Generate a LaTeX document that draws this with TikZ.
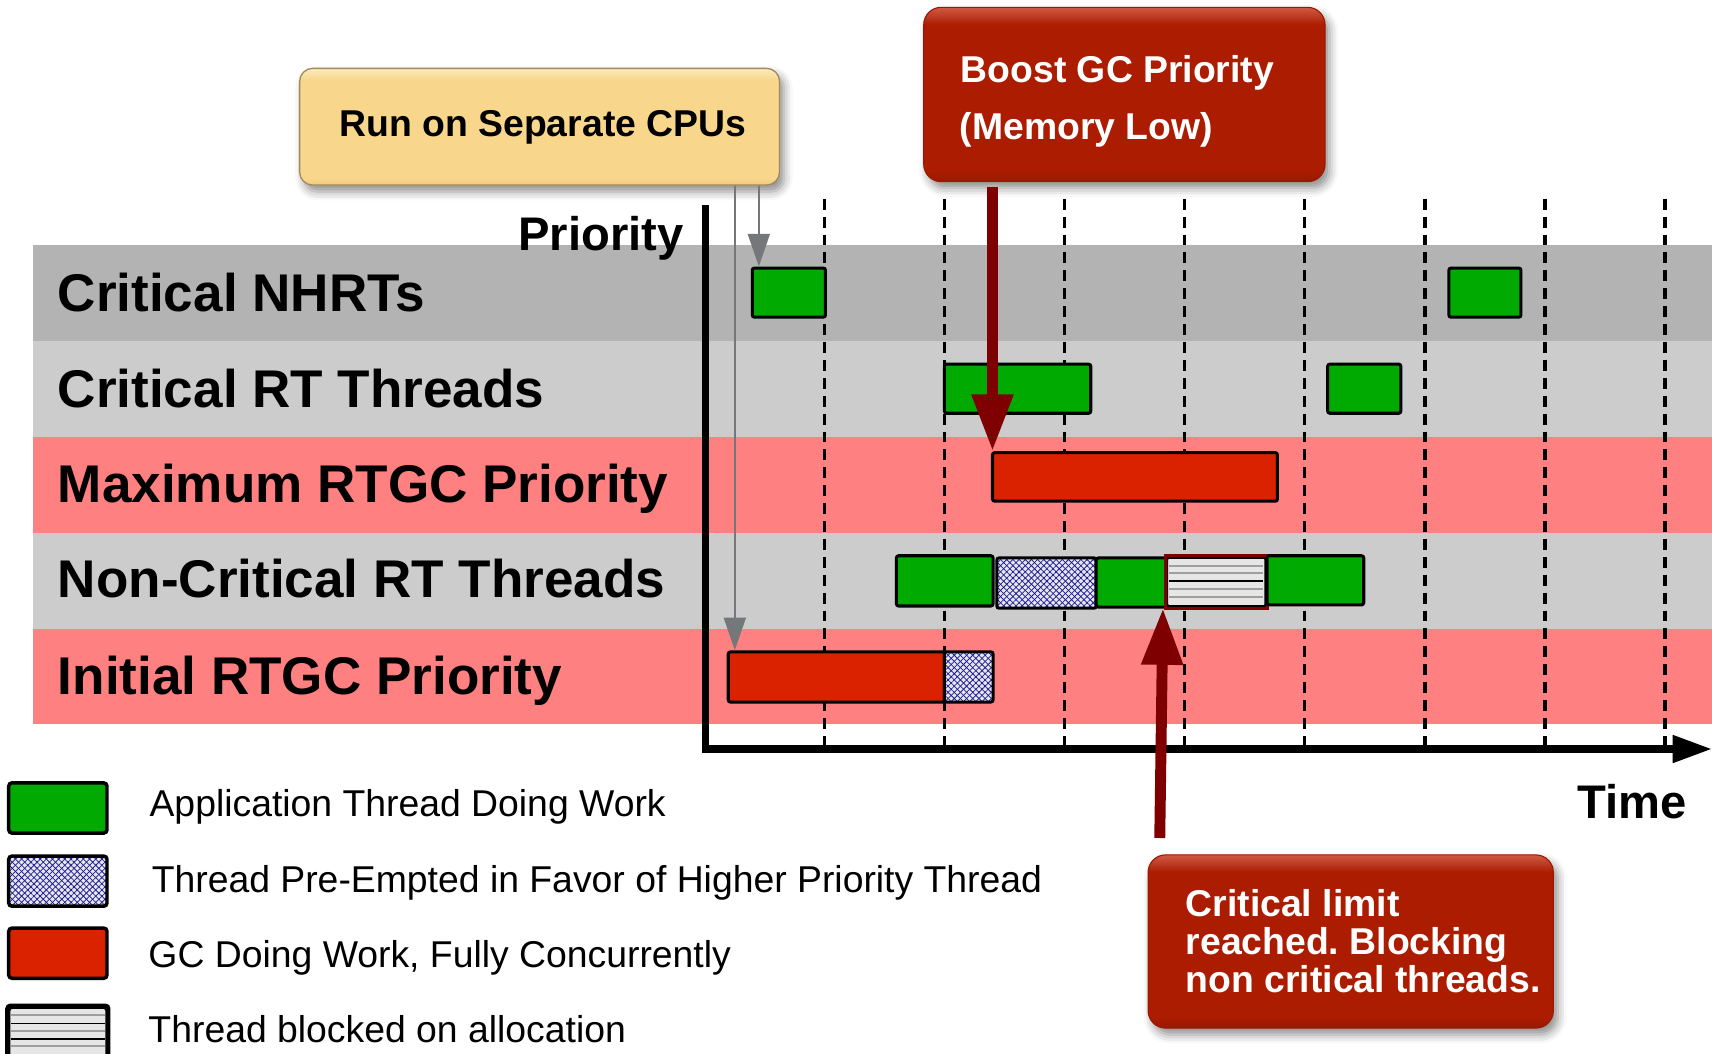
\documentclass[tikz,border=0pt]{standalone}
\usepackage{fontspec}
\setmainfont{Liberation Sans}
\usetikzlibrary{arrows.meta,fit,patterns.meta,shadows.blur,calc}
\frenchspacing

\definecolor{banddark}{HTML}{B3B3B3}
\definecolor{bandlight}{HTML}{CCCCCC}
\definecolor{bandpink}{HTML}{FF8080}
\definecolor{workgreen}{HTML}{00AA00}
\definecolor{gcred}{HTML}{DB2200}
\definecolor{hatchbg}{HTML}{E6E6E6}
\definecolor{hatchblue}{HTML}{1A1A99}
\definecolor{blkred}{HTML}{800000}
\definecolor{arrred}{HTML}{7F0000}
\definecolor{arrgray}{HTML}{76777B}
\definecolor{boxred}{HTML}{AB1C00}
\definecolor{boxredtop}{HTML}{D05A44}
\definecolor{boxredbot}{HTML}{9A1800}
\definecolor{boxyel}{HTML}{F8D68B}
\definecolor{boxyeltop}{HTML}{FCEBBE}
\definecolor{boxyelbot}{HTML}{EFCB80}
\definecolor{boxyeledge}{HTML}{A08A5A}

\pgfdeclareverticalshading{redboxshade}{100bp}{color(0bp)=(boxredbot); color(25bp)=(boxredbot); color(28bp)=(boxred); color(70bp)=(boxred); color(75bp)=(boxredtop); color(100bp)=(boxredtop)}
\pgfdeclareverticalshading{yelboxshade}{100bp}{color(0bp)=(boxyelbot); color(25bp)=(boxyelbot); color(28bp)=(boxyel); color(70bp)=(boxyel); color(75bp)=(boxyeltop); color(100bp)=(boxyeltop)}

\newcommand{\bandfnt}{\fontsize{24.3}{29}\selectfont\bfseries}
\newcommand{\axisfnt}{\fontsize{21.6}{26}\selectfont\bfseries}
\newcommand{\legfnt}{\fontsize{17.1}{20}\selectfont}
\newcommand{\boxfnt}{\fontsize{17.1}{20}\selectfont\bfseries}

\begin{document}
\begin{tikzpicture}[x=0.5pt,y=-0.5pt,
  txt/.style={inner sep=0pt, outer sep=0pt},
  blockbase/.style={draw=black, line width=1.4pt, rounded corners=1pt, inner sep=0pt},
  work/.style={blockbase, fill=workgreen},
  gc/.style={blockbase, fill=gcred},
  hatch/.style={blockbase,
    preaction={fill=hatchbg},
    preaction={pattern={Lines[angle=45,distance=2pt,line width=0.35pt]}, pattern color=hatchblue},
    preaction={pattern={Lines[angle=-45,distance=2pt,line width=0.35pt]}, pattern color=hatchblue}},
  blocked/.style={blockbase, fill=hatchbg},
  legbox/.style={line width=1.6pt, rounded corners=1.5pt},
  hline/.style={line width=0.8pt, draw=gray!75},
  dashline/.style={line width=1.5pt, dash pattern=on 5pt off 3.2pt},
  axisline/.style={line width=3.3pt, -{Triangle[length=18pt,width=12pt]}},
  grayarr/.style={draw=arrgray, line width=1.2pt, -{Triangle[length=15pt,width=10pt]}, fill=arrgray},
  redarr/.style={draw=arrred, line width=5pt, -{Triangle[length=26pt,width=18pt]}, fill=arrred},
  redbox/.style={inner sep=0pt, rounded corners=8pt, draw=boxredbot, line width=0.5pt,
    shading=redboxshade,
    blur shadow={shadow xshift=2pt, shadow yshift=-3pt, shadow blur radius=4pt, shadow opacity=45}},
  yelbox/.style={inner sep=0pt, rounded corners=6pt, draw=boxyeledge, line width=0.6pt,
    shading=yelboxshade,
    blur shadow={shadow xshift=2pt, shadow yshift=-3pt, shadow blur radius=4pt, shadow opacity=45}}
]
\useasboundingbox (0,0) rectangle (1568,965);

% priority bands
\fill[banddark]  (30,224) rectangle (1568,312);
\fill[bandlight] (30,312) rectangle (1568,400);
\fill[bandpink]  (30,400) rectangle (1568,488);
\fill[bandlight] (30,488) rectangle (1568,576);
\fill[bandpink]  (30,576) rectangle (1568,663);

% band labels
\node[txt, anchor=base west, font=\bandfnt] (lbl1) at (53,285) {Critical NHRTs};
\node[txt, anchor=base west, font=\bandfnt] (lbl2) at (53,373) {Critical RT Threads};
\node[txt, anchor=base west, font=\bandfnt] (lbl3) at (53,460) {Maximum RTGC Priority};
\node[txt, anchor=base west, font=\bandfnt] (lbl4) at (53,547) {Non-Critical RT Threads};
\node[txt, anchor=base west, font=\bandfnt] (lbl5) at (53,636) {Initial RTGC Priority};

% time grid
\foreach \xx in {755,865,975,1085,1195,1305,1415,1525}
  \draw[dashline] (\xx,182) -- (\xx,683);

% axes
\coordinate (ytop) at (646,188);
\coordinate (orig) at (646,686);
\coordinate (xend) at (1568,686);
\draw[axisline] (ytop) -- (orig) -- (xend);
\node[txt, anchor=base east, font=\axisfnt] (prio) at (626,229) {Priority};
\node[txt, anchor=base east, font=\axisfnt] (time) at (1545,750) {Time};

% blocks
\node[work, fit={(689,245.5)(756,290.5)}] (n1) {};
\node[work, fit={(1327,245.5)(1393,290.5)}] (n2) {};
\node[work, fit={(865,333.5)(999,378.5)}] (r1) {};
\node[work, fit={(1216,333.5)(1283,378.5)}] (r2) {};
\node[gc,   fit={(909,414.6)(1170,459)}] (m1) {};
\node[work, fit={(821,509)(909.5,555)}] (c1) {};
\node[hatch,fit={(913,511)(1004,557)}] (c2) {};
\node[work, fit={(1004,511)(1068.5,556)}] (c3) {};
\node[blocked, fit={(1068.5,510.5)(1159.5,555.5)}] (blk) {};
\foreach \yy/\cc in {518.4/gray!75,525/gray!75,532.4/black,539.7/gray!75,546.5/gray!75}
  \draw[hline, draw=\cc] (1071,\yy) -- (1157,\yy);
\draw[draw=blkred, line width=1.4pt] (blk.south west) rectangle (blk.north east);
\node[work, fit={(1160.5,509)(1249,554)}] (c4) {};
\node[gc,   fit={(667,597)(865,643)}] (i1) {};
\node[hatch,fit={(865,597)(909.5,643)}] (i2) {};

% callout boxes
\node[yelbox, fit={(274.4,62.6)(714,169.5)}] (run) {};
\node[txt, anchor=base west, font=\boxfnt] (runt) at (311,125) {Run on Separate CPUs};

\node[redbox, fit={(846,6.7)(1213.6,166.4)}] (boost) {};
\node[txt, anchor=base west, font=\boxfnt, text=white] (boostt1) at (880,76) {Boost GC Priority};
\node[txt, anchor=base west, font=\boxfnt, text=white] (boostt2) at (879,128) {(Memory Low)};

\node[redbox, fit={(1051.5,783)(1422.7,941.6)}] (lim) {};
\node[txt, anchor=base west, font=\boxfnt, text=white] (limt1) at (1086,839) {Critical limit};
\node[txt, anchor=base west, font=\boxfnt, text=white] (limt2) at (1086,874) {reached. Blocking};
\node[txt, anchor=base west, font=\boxfnt, text=white] (limt3) at (1086,909) {non critical threads.};

% connectors
\coordinate (ga1) at (695,0);
\coordinate (ga2) at (673,0);
\coordinate (ba) at (909,0);
\coordinate (ca) at (1062,0);
\draw[grayarr] (run.south -| ga1) -- (n1.north -| ga1);
\draw[grayarr] (run.south -| ga2) -- (i1.north -| ga2);
\draw[redarr, shorten <=2pt] (boost.south -| ba) -- (m1.north -| ba);
\draw[redarr, shorten <=7.5pt] (lim.north -| ca) -- ([xshift=-1pt]blk.south west);

% legend
\node[work, legbox, fit={(8,717)(98,763)}] (lg1) {};
\node[hatch, legbox, fit={(8,784)(98,830)}] (lg2) {};
\node[gc, legbox, fit={(8,850)(98,896)}] (lg3) {};
\node[blocked, legbox, fit={(8,922.4)(98,980)}] (lg4) {};
\foreach \yy/\cc in {929.7/gray!75,937.3/black,944/gray!75,951.4/black,958/gray!75}
  \draw[hline, draw=\cc] (10,\yy) -- (96,\yy);
\draw[line width=1.6pt, rounded corners=1.5pt] (lg4.south west) rectangle (lg4.north east);

\node[txt, anchor=base west, font=\legfnt] (lgt1) at (137,748) {Application Thread Doing Work};
\node[txt, anchor=base west, font=\legfnt] (lgt2) at (139,817) {Thread Pre-Empted in Favor of Higher Priority Thread};
\node[txt, anchor=base west, font=\legfnt] (lgt3) at (136,886) {GC Doing Work, Fully Concurrently};
\node[txt, anchor=base west, font=\legfnt] (lgt4) at (136,955) {Thread blocked on allocation};
\end{tikzpicture}
\end{document}
